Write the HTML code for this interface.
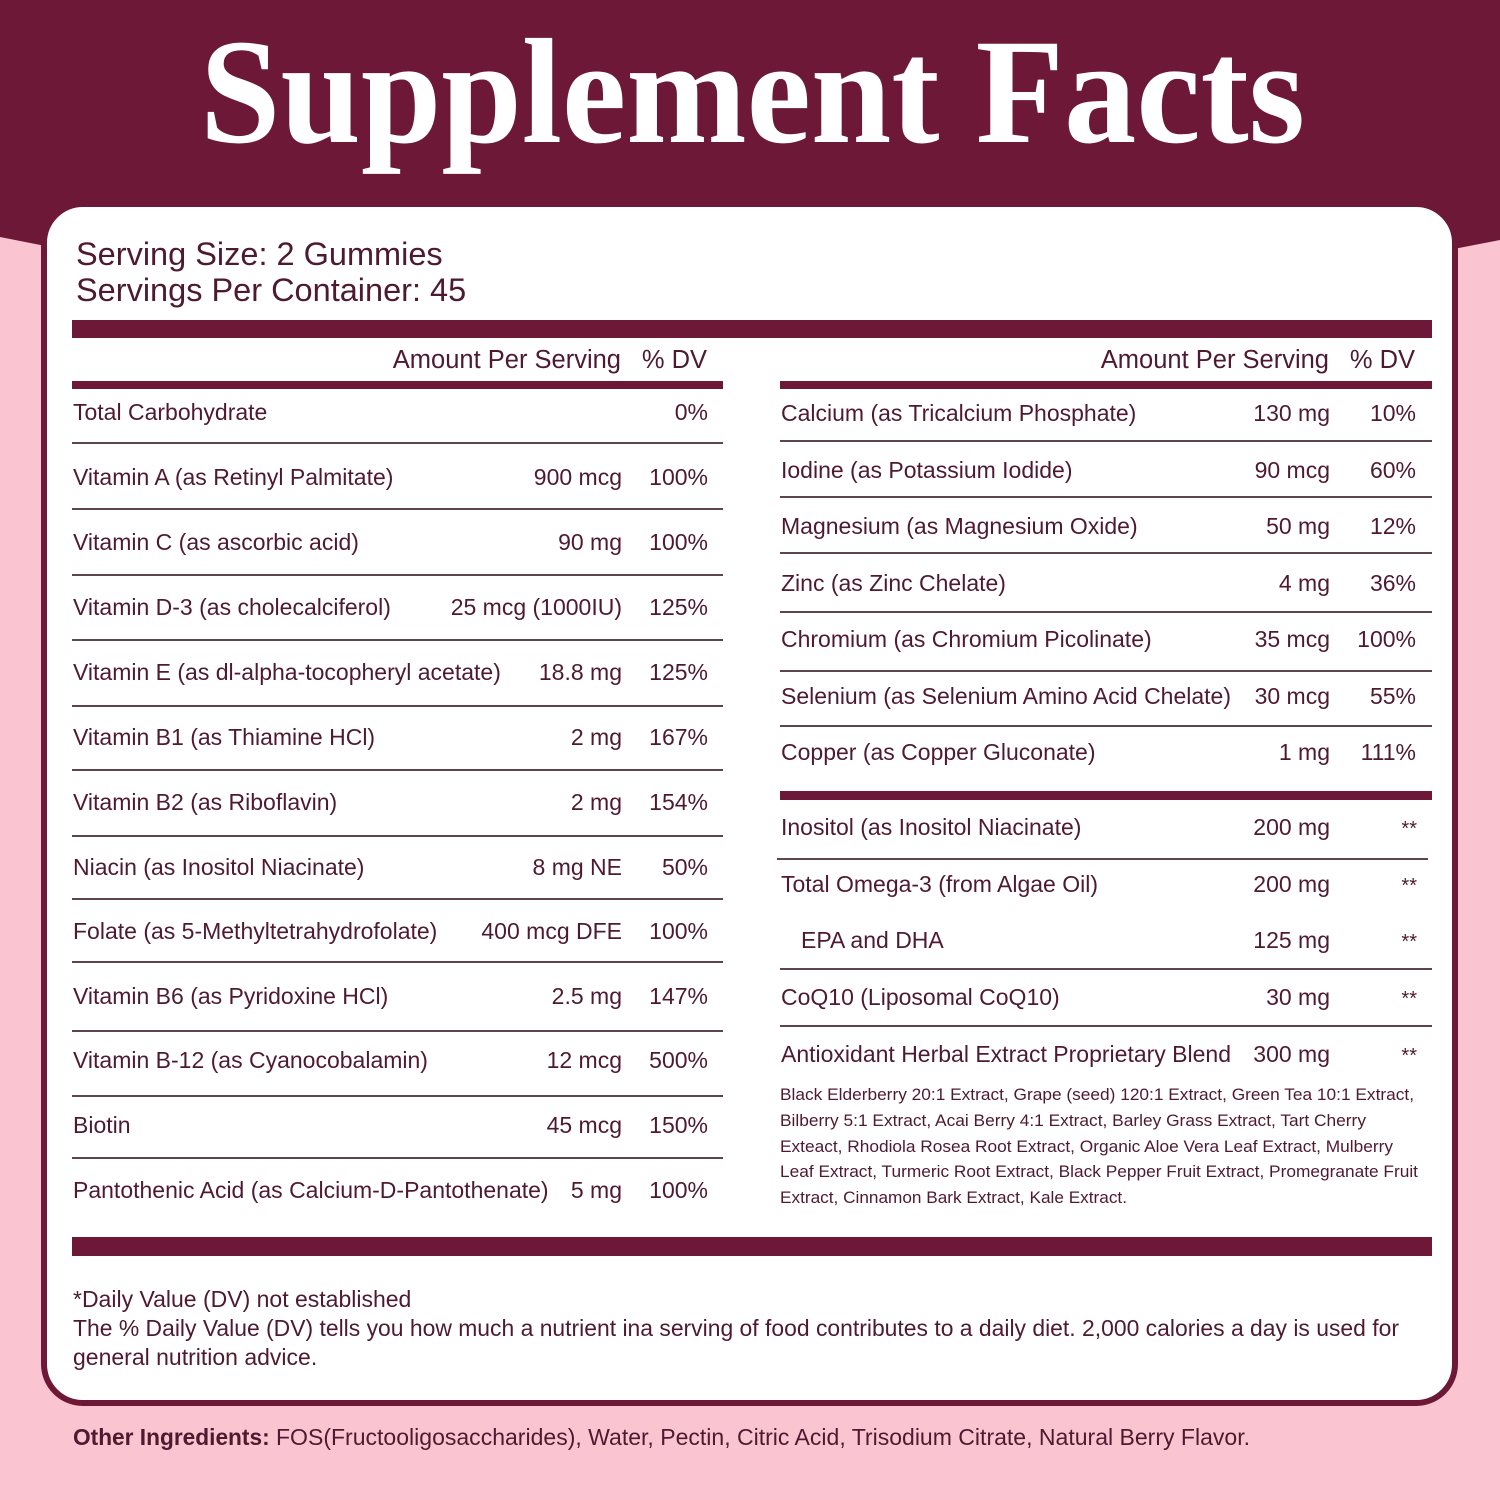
<!DOCTYPE html>
<html>
<head>
<meta charset="utf-8">
<style>
html,body{margin:0;padding:0;background:#fac4d1;}
svg{display:block;}
text{font-family:"Liberation Sans",Arial,sans-serif;fill:#4e1a30;}
</style>
</head>
<body>
<svg width="1500" height="1500" viewBox="0 0 1500 1500" xmlns="http://www.w3.org/2000/svg">
  <rect x="0" y="0" width="1500" height="1500" fill="#fac4d1"/>
  <path d="M0,0 H1500 V240 Q750,390 0,237 Z" fill="#6c1836"/>
  <rect x="44" y="204" width="1411" height="1199" rx="39" ry="39" fill="#ffffff" stroke="#6c1836" stroke-width="6"/>

  <text x="200" y="142" font-size="150" font-weight="bold" textLength="1105" lengthAdjust="spacingAndGlyphs" style="font-family:'Liberation Serif','Times New Roman',serif;fill:#ffffff;">Supplement Facts</text>

  <text x="76" y="265" font-size="32.5">Serving Size: 2 Gummies</text>
  <text x="76" y="301" font-size="32.5">Servings Per Container: 45</text>

  <!-- thick bars -->
  <g fill="#6c1836">
    <rect x="72" y="320" width="1360" height="18"/>
    <rect x="72" y="381" width="651" height="8"/>
    <rect x="780" y="381" width="652" height="8"/>
    <rect x="780" y="791" width="652" height="9"/>
    <rect x="72" y="1237" width="1360" height="19"/>
  </g>

  <!-- thin lines -->
  <g stroke="#5e4450" stroke-width="2">
    <line x1="72" y1="443" x2="723" y2="443"/>
    <line x1="72" y1="509" x2="723" y2="509"/>
    <line x1="72" y1="575" x2="723" y2="575"/>
    <line x1="72" y1="640" x2="723" y2="640"/>
    <line x1="72" y1="706" x2="723" y2="706"/>
    <line x1="72" y1="770" x2="723" y2="770"/>
    <line x1="72" y1="836" x2="723" y2="836"/>
    <line x1="72" y1="899" x2="723" y2="899"/>
    <line x1="72" y1="962" x2="723" y2="962"/>
    <line x1="72" y1="1031" x2="723" y2="1031"/>
    <line x1="72" y1="1096" x2="723" y2="1096"/>
    <line x1="72" y1="1158" x2="723" y2="1158"/>

    <line x1="780" y1="441" x2="1432" y2="441"/>
    <line x1="780" y1="497" x2="1432" y2="497"/>
    <line x1="780" y1="553" x2="1432" y2="553"/>
    <line x1="780" y1="612" x2="1432" y2="612"/>
    <line x1="780" y1="671" x2="1432" y2="671"/>
    <line x1="780" y1="726" x2="1432" y2="726"/>
    <line x1="777" y1="859" x2="1428" y2="859"/>
    <line x1="780" y1="969" x2="1432" y2="969"/>
    <line x1="780" y1="1026" x2="1432" y2="1026"/>
  </g>

  <!-- headers -->
  <text x="621" y="368" font-size="25.5" text-anchor="end">Amount Per Serving</text>
  <text x="707" y="368" font-size="25.5" text-anchor="end">% DV</text>
  <text x="1329" y="368" font-size="25.5" text-anchor="end">Amount Per Serving</text>
  <text x="1415" y="368" font-size="25.5" text-anchor="end">% DV</text>

  <!-- left column -->
  <g font-size="23">
    <text x="73" y="420">Total Carbohydrate</text>
    <text x="708" y="420" text-anchor="end">0%</text>

    <text x="73" y="485">Vitamin A (as Retinyl Palmitate)</text>
    <text x="622" y="485" text-anchor="end">900 mcg</text>
    <text x="708" y="485" text-anchor="end">100%</text>

    <text x="73" y="550">Vitamin C (as ascorbic acid)</text>
    <text x="622" y="550" text-anchor="end">90 mg</text>
    <text x="708" y="550" text-anchor="end">100%</text>

    <text x="73" y="615">Vitamin D-3 (as cholecalciferol)</text>
    <text x="622" y="615" text-anchor="end">25 mcg (1000IU)</text>
    <text x="708" y="615" text-anchor="end">125%</text>

    <text x="73" y="680">Vitamin E (as dl-alpha-tocopheryl acetate)</text>
    <text x="622" y="680" text-anchor="end">18.8 mg</text>
    <text x="708" y="680" text-anchor="end">125%</text>

    <text x="73" y="745">Vitamin B1 (as Thiamine HCl)</text>
    <text x="622" y="745" text-anchor="end">2 mg</text>
    <text x="708" y="745" text-anchor="end">167%</text>

    <text x="73" y="810">Vitamin B2 (as Riboflavin)</text>
    <text x="622" y="810" text-anchor="end">2 mg</text>
    <text x="708" y="810" text-anchor="end">154%</text>

    <text x="73" y="875">Niacin (as Inositol Niacinate)</text>
    <text x="622" y="875" text-anchor="end">8 mg NE</text>
    <text x="708" y="875" text-anchor="end">50%</text>

    <text x="73" y="939">Folate (as 5-Methyltetrahydrofolate)</text>
    <text x="622" y="939" text-anchor="end">400 mcg DFE</text>
    <text x="708" y="939" text-anchor="end">100%</text>

    <text x="73" y="1004">Vitamin B6 (as Pyridoxine HCl)</text>
    <text x="622" y="1004" text-anchor="end">2.5 mg</text>
    <text x="708" y="1004" text-anchor="end">147%</text>

    <text x="73" y="1068">Vitamin B-12 (as Cyanocobalamin)</text>
    <text x="622" y="1068" text-anchor="end">12 mcg</text>
    <text x="708" y="1068" text-anchor="end">500%</text>

    <text x="73" y="1133">Biotin</text>
    <text x="622" y="1133" text-anchor="end">45 mcg</text>
    <text x="708" y="1133" text-anchor="end">150%</text>

    <text x="73" y="1198">Pantothenic Acid (as Calcium-D-Pantothenate)</text>
    <text x="622" y="1198" text-anchor="end">5 mg</text>
    <text x="708" y="1198" text-anchor="end">100%</text>
  </g>

  <!-- right column -->
  <g font-size="23">
    <text x="781" y="421">Calcium (as Tricalcium Phosphate)</text>
    <text x="1330" y="421" text-anchor="end">130 mg</text>
    <text x="1416" y="421" text-anchor="end">10%</text>

    <text x="781" y="478">Iodine (as Potassium Iodide)</text>
    <text x="1330" y="478" text-anchor="end">90 mcg</text>
    <text x="1416" y="478" text-anchor="end">60%</text>

    <text x="781" y="534">Magnesium (as Magnesium Oxide)</text>
    <text x="1330" y="534" text-anchor="end">50 mg</text>
    <text x="1416" y="534" text-anchor="end">12%</text>

    <text x="781" y="591">Zinc (as Zinc Chelate)</text>
    <text x="1330" y="591" text-anchor="end">4 mg</text>
    <text x="1416" y="591" text-anchor="end">36%</text>

    <text x="781" y="647">Chromium (as Chromium Picolinate)</text>
    <text x="1330" y="647" text-anchor="end">35 mcg</text>
    <text x="1416" y="647" text-anchor="end">100%</text>

    <text x="781" y="704">Selenium (as Selenium Amino Acid Chelate)</text>
    <text x="1330" y="704" text-anchor="end">30 mcg</text>
    <text x="1416" y="704" text-anchor="end">55%</text>

    <text x="781" y="760">Copper (as Copper Gluconate)</text>
    <text x="1330" y="760" text-anchor="end">1 mg</text>
    <text x="1416" y="760" text-anchor="end">111%</text>

    <text x="781" y="835">Inositol (as Inositol Niacinate)</text>
    <text x="1330" y="835" text-anchor="end">200 mg</text>
    <text x="1417" y="835" text-anchor="end" font-size="20">**</text>

    <text x="781" y="892">Total Omega-3 (from Algae Oil)</text>
    <text x="1330" y="892" text-anchor="end">200 mg</text>
    <text x="1417" y="892" text-anchor="end" font-size="20">**</text>

    <text x="801" y="948">EPA and DHA</text>
    <text x="1330" y="948" text-anchor="end">125 mg</text>
    <text x="1417" y="948" text-anchor="end" font-size="20">**</text>

    <text x="781" y="1005">CoQ10 (Liposomal CoQ10)</text>
    <text x="1330" y="1005" text-anchor="end">30 mg</text>
    <text x="1417" y="1005" text-anchor="end" font-size="20">**</text>

    <text x="781" y="1062">Antioxidant Herbal Extract Proprietary Blend</text>
    <text x="1330" y="1062" text-anchor="end">300 mg</text>
    <text x="1417" y="1062" text-anchor="end" font-size="20">**</text>
  </g>

  <g font-size="16.5">
    <text x="780" y="1100" textLength="634" lengthAdjust="spacingAndGlyphs">Black Elderberry 20:1 Extract, Grape (seed) 120:1 Extract, Green Tea 10:1 Extract,</text>
    <text x="780" y="1126" textLength="586" lengthAdjust="spacingAndGlyphs">Bilberry 5:1 Extract, Acai Berry 4:1 Extract, Barley Grass Extract, Tart Cherry</text>
    <text x="780" y="1152" textLength="613" lengthAdjust="spacingAndGlyphs">Exteact, Rhodiola Rosea Root Extract, Organic Aloe Vera Leaf Extract, Mulberry</text>
    <text x="780" y="1177" textLength="638" lengthAdjust="spacingAndGlyphs">Leaf Extract, Turmeric Root Extract, Black Pepper Fruit Extract, Promegranate Fruit</text>
    <text x="780" y="1203" textLength="347" lengthAdjust="spacingAndGlyphs">Extract, Cinnamon Bark Extract, Kale Extract.</text>
  </g>

  <!-- footnotes -->
  <g font-size="23">
    <text x="73" y="1307">*Daily Value (DV) not established</text>
    <text x="73" y="1336" textLength="1326" lengthAdjust="spacingAndGlyphs">The % Daily Value (DV) tells you how much a nutrient ina serving of food contributes to a daily diet. 2,000 calories a day is used for</text>
    <text x="73" y="1365">general nutrition advice.</text>
  </g>

  <text x="73" y="1445" font-size="22.7"><tspan font-weight="bold">Other Ingredients:</tspan></text>
  <text x="276" y="1445" font-size="22.7" textLength="974" lengthAdjust="spacingAndGlyphs">FOS(Fructooligosaccharides), Water, Pectin, Citric Acid, Trisodium Citrate, Natural Berry Flavor.</text>
</svg>
</body>
</html>
